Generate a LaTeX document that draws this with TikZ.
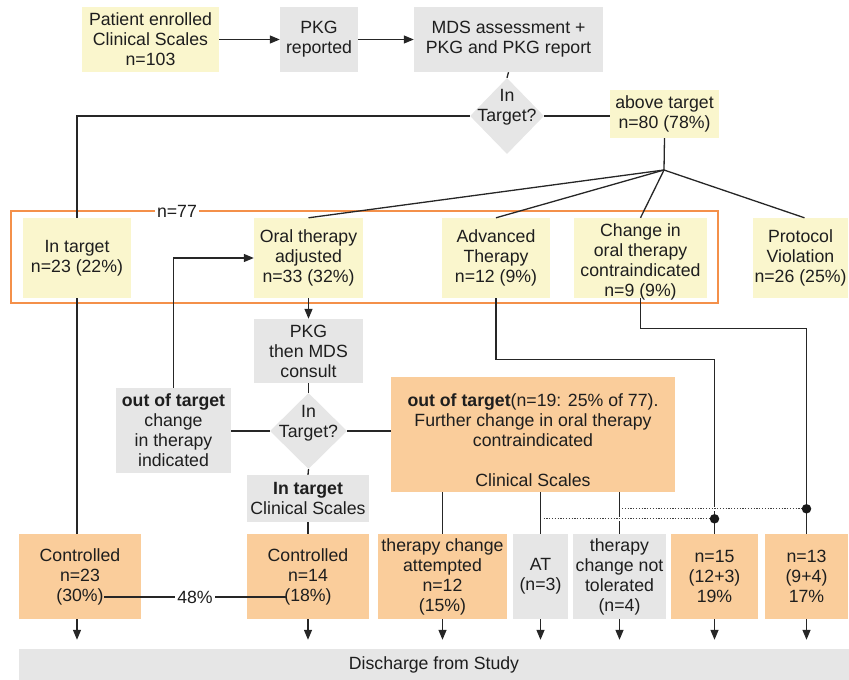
\documentclass[tikz,border=0pt]{standalone}
\usepackage{fontspec}
\setmainfont{Liberation Sans}
\usetikzlibrary{shapes.geometric,arrows.meta,calc}
\definecolor{yel}{HTML}{FAF6CD}
\definecolor{gry}{HTML}{E6E6E6}
\definecolor{pch}{HTML}{FACD9B}
\definecolor{frm}{HTML}{F4904A}
\definecolor{txt}{HTML}{1E1E1E}
\begin{document}
\begin{tikzpicture}[x=1pt,y=-1pt,
  font=\fontsize{17.7}{20}\selectfont, text=txt,
  bx/.style={inner sep=0pt, align=center},
  yb/.style={bx, fill=yel},
  gb/.style={bx, fill=gry},
  pb/.style={bx, fill=pch},
  dia/.style={diamond, fill=gry, inner sep=0pt},
  ln/.style={draw=black!85, line width=1.3pt},
  ar/.style={ln, -{Triangle[length=10pt,width=8pt]}},
  dn/.style={ar, shorten >=9pt},
  dots/.style={draw=black!75, line width=1.2pt, dash pattern=on 1.2pt off 1.6pt,
    preaction={draw=white, line width=3.5pt, solid}},
  blob/.style={circle, fill=black!90, inner sep=0pt, minimum size=9.5pt}
]
\useasboundingbox (0,0) rectangle (849,680);

% orange frame
\draw[frm, line width=1.3pt] (11,211) rectangle (718,303);

% top row
\node[yb, minimum width=137pt, minimum height=65pt] (pe) at (150.5,39.5) {Patient enrolled\\Clinical Scales\\n=103};
\node[gb, minimum width=78pt, minimum height=65pt] (pkg) at (319,39.5) {PKG\\reported};
\node[gb, minimum width=189pt, minimum height=65pt] (mds) at (508.5,39.5) {MDS assessment +\\PKG and PKG report};
\node[dia, minimum width=74pt, minimum height=76pt] (d1) at (507,116) {};
\node[bx] (d1t) at (507,107.5) {In\\Target?};
\node[yb, minimum width=109pt, minimum height=48pt] (above) at (664.5,114) {above target\\n=80 (78\%)};
\coordinate (F) at (664,170);

% middle row
\node[yb, minimum width=108pt, minimum height=80pt] (intg) at (77,258) {In target\\n=23 (22\%)};
\node[yb, minimum width=109pt, minimum height=80pt] (oral) at (308.5,258) {Oral therapy\\adjusted\\n=33 (32\%)};
\node[yb, minimum width=108pt, minimum height=80pt] (adv) at (496,258) {Advanced\\Therapy\\n=12 (9\%)};
\node[yb, minimum width=133pt, minimum height=80pt] (chg) at (640.5,258) {};
\node[bx] (chgt) at (640.5,261.5) {Change in\\oral therapy\\contraindicated\\n=9 (9\%)};
\node[yb, minimum width=95pt, minimum height=80pt] (prot) at (800.5,258) {Protocol\\Violation\\n=26 (25\%)};
\node[fill=white, inner sep=2pt] (n77) at (177,211) {n=77};

% second level
\node[gb, minimum width=109pt, minimum height=64pt] (pkg2) at (308.5,351) {PKG\\then MDS\\consult};
\node[dia, minimum width=77pt, minimum height=76pt] (d2) at (308.5,431) {};
\node[bx] (d2t) at (308.5,423.5) {In\\Target?};
\node[gb, minimum width=115pt, minimum height=85pt] (oot) at (173.5,430.5) {\textbf{out of target}\\change\\in therapy\\indicated};
\node[pb, minimum width=284pt, minimum height=115pt] (big) at (533,434.5) {};
\node[bx] (bigt) at (533,440) {\textbf{out of target}(n=19: 25\% of 77).\\Further change in oral therapy\\contraindicated\\[20pt]Clinical Scales};
\node[gb, minimum width=122pt, minimum height=47pt] (intcs) at (308,498.5) {\textbf{In target}\\Clinical Scales};

% bottom row
\node[pb, minimum width=122pt, minimum height=85pt] (c1) at (80,576.5) {Controlled\\n=23\\(30\%)};
\node[pb, minimum width=122pt, minimum height=85pt] (c2) at (308,576.5) {Controlled\\n=14\\(18\%)};
\node[pb, minimum width=129pt, minimum height=85pt] (tca) at (442.5,576.5) {therapy change\\attempted\\n=12\\(15\%)};
\node[gb, minimum width=55pt, minimum height=85pt] (at) at (540.5,576.5) {AT\\(n=3)};
\node[gb, minimum width=93pt, minimum height=85pt] (tcn) at (619.5,576.5) {therapy\\change not\\tolerated\\(n=4)};
\node[pb, minimum width=87pt, minimum height=85pt] (n15) at (714.5,576.5) {n=15\\(12+3)\\19\%};
\node[pb, minimum width=83pt, minimum height=85pt] (n13) at (806.5,576.5) {n=13\\(9+4)\\17\%};
\node[gb, minimum width=830pt, minimum height=31pt] (dis) at (434,664.5) {Discharge from Study};

% connectors top
\draw[ar] (pe.east) -- (pkg.west);
\draw[ar] (pkg.east) -- (mds.west);
\draw[ln] (mds.south) -- (d1.north);
\draw[ln] (d1.east) -- (d1.east -| above.west);
\draw[ln] (d1.west) -| (intg.north);
\draw[ln] (above.south) -- (F);
\draw[ln] (F) -- (oral.north);
\draw[ln] (F) -- (adv.north);
\draw[ln] (F) -- (chg.north);
\draw[ln] (F) -- ($(prot.north)+(4,0)$);

% middle connectors
\draw[ln] (intg.south) -- (intg.south |- c1.north);
\draw[ar] (oral.south) -- (pkg2.north);
\draw[ln] (pkg2.south) -- (d2.north);
\draw[ln] (d2.west) -- (d2.west -| oot.east);
\draw[ar] (oot.north) |- (oral.west);
\draw[ln] (d2.east) -- (d2.east -| big.west);
\draw[ln] (d2.south) -- (intcs.north);
\draw[ln] (intcs.south) -- (c2.north);
\draw[ln] (adv.south) -- ++(0,61) -| (n15.north);
\draw[ln] (chg.south) -- ++(0,30) -| (n13.north);
\draw[ln] (big.south -| tca.north) -- (tca.north);
\draw[ln] (big.south -| at.north) -- (at.north);
\draw[ln] (big.south -| tcn.north) -- (tcn.north);

% dotted links
\coordinate (dA) at ($(at.north)+(1,-15)$);
\coordinate (dB) at ($(tcn.north)+(1.5,-25)$);
\draw[dots] ($(dA)+(2,0)$) -- (dA -| n15.north);
\draw[dots] ($(dB)+(1,0)$) -- (dB -| n13.north);
\node[blob] (bA) at (dA -| n15.north) {};
\node[blob] (bB) at (dB -| n13.north) {};

% 48% link
\coordinate (p30) at (104,597);
\coordinate (p18) at (286,597);
\draw[ln] (p30) -- node[fill=white, inner sep=2pt] (pct) {48\%} (p18);

% arrows to discharge
\draw[dn] (c1.south -| intg.south) -- (intg.south |- dis.north);
\draw[dn] (c2.south) -- (c2.south |- dis.north);
\draw[dn] (tca.south) -- (tca.south |- dis.north);
\draw[dn] (at.south) -- (at.south |- dis.north);
\draw[dn] (tcn.south) -- (tcn.south |- dis.north);
\draw[dn] (n15.south) -- (n15.south |- dis.north);
\draw[dn] (n13.south) -- (n13.south |- dis.north);
\end{tikzpicture}
\end{document}
